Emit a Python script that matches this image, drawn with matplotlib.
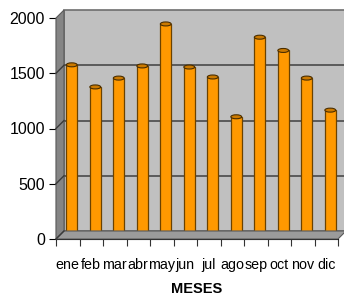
import matplotlib
matplotlib.use("Agg")
import matplotlib.pyplot as plt
from matplotlib.patches import Rectangle, Polygon, Ellipse
from matplotlib.transforms import ScaledTranslation
import numpy as np

months = ["ene", "feb", "mar", "abr", "may", "jun", "jul", "ago", "sep", "oct", "nov", "dic"]
values = [1540, 1340, 1420, 1530, 1910, 1520, 1430, 1070, 1790, 1670, 1420, 1130]
yticks = [0, 500, 1000, 1500, 2000]
xlabel = "MESES"

W, H = 344, 303
fig = plt.figure(figsize=(W / 100, H / 100), dpi=100)
fig.patch.set_facecolor("white")
plt.rcParams['font.family'] = ['Liberation Sans', 'DejaVu Sans']

x0, x1, yb, yt = 56, 338, 239, 18
ax = fig.add_axes([x0 / W, (H - yb) / H, (x1 - x0) / W, (yb - yt) / H])
ax.set_xlim(-0.5, len(months) - 0.5)
ax.set_ylim(0, 2000)
ax.patch.set_visible(False)

depth = 8 / 100.0
back = ax.transData + ScaledTranslation(depth, depth, fig.dpi_scale_trans)
mid = ax.transData + ScaledTranslation(depth / 2, depth / 2, fig.dpi_scale_trans)

xl, xr = -0.5, len(months) - 0.5
# back wall
ax.add_patch(Rectangle((xl, 0), xr - xl, 2000, transform=back, facecolor="#c0c0c0",
                       edgecolor="#6e6e6e", lw=1.2, clip_on=False, zorder=0))
dx, dy = 8, 8
def disp(x, y):
    return ax.transData.transform((x, y))
# left side wall
p0 = disp(xl, 0); p1 = disp(xl, 2000)
side = Polygon([p0, p1, (p1[0] + dx, p1[1] + dy), (p0[0] + dx, p0[1] + dy)], closed=True,
               transform=None, facecolor="#858585", edgecolor="#5a5a5a", lw=0.8, zorder=0.5)
fig.patches.append(side)
# floor
q0 = disp(xl, 0); q1 = disp(xr, 0)
floor = Polygon([q0, q1, (q1[0] + dx, q1[1] + dy), (q0[0] + dx, q0[1] + dy)], closed=True,
                transform=None, facecolor="#9b9b9b", edgecolor="#5a5a5a", lw=0.8, zorder=0.5)
fig.patches.append(floor)

# gridlines on back wall and side wall
for v in yticks[1:-1]:
    ax.plot([xl, xr], [v, v], transform=back, color="#4a4a4a", lw=1.2, clip_on=False, zorder=1)
for v in yticks[:-1]:
    a = disp(xl, v)
    fig.lines.append(plt.Line2D([a[0], a[0] + dx], [a[1], a[1] + dy], transform=None,
                                color="#3a3a3a", lw=1.0))

# bars
xs = np.arange(len(months))
bw = 0.46
ax.bar(xs, values, width=bw, color="#ff9900", edgecolor="#6b4200", lw=0.9,
       transform=mid, zorder=3, clip_on=False)
for x, v in zip(xs, values):
    ax.add_patch(Ellipse((x, v), bw, 36, transform=mid, facecolor="#cc7a00",
                         edgecolor="#4a2e00", lw=0.8, zorder=4, clip_on=False))

# axes styling
for s in ["top", "right"]:
    ax.spines[s].set_visible(False)
ax.spines["left"].set_color("#000000")
ax.spines["bottom"].set_color("#000000")
ax.set_yticks(yticks)
ax.set_yticklabels([str(v) for v in yticks], fontsize=11.5)
ax.tick_params(axis="y", length=5, direction="out", pad=3)
ax.set_xticks(np.arange(len(months) + 1) - 0.5)
ax.set_xticklabels([])
ax.tick_params(axis="x", which="major", length=5, direction="out", color="#333333")
ax.set_xticks(xs, minor=True)
ax.set_xticklabels(months, minor=True, fontsize=10.3)
ax.tick_params(axis="x", which="minor", length=0, pad=14)
ax.set_xlabel(xlabel, fontsize=10.5, fontweight="bold", labelpad=7)

fig.savefig("out.png", dpi=100)
